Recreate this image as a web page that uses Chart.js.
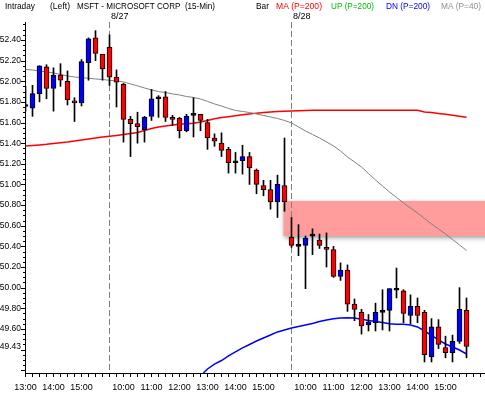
<!DOCTYPE html>
<html>
<head>
<meta charset="utf-8">
<title>MSFT - MICROSOFT CORP (15-Min)</title>
<script src="https://cdn.jsdelivr.net/npm/chart.js@4/dist/chart.umd.min.js"></script>
<style>
	html, body { margin: 0; padding: 0; background: #ffffff; }
	#chart-msft { display: block; }
</style>
</head>
<body>
<canvas id="chart-msft" width="485" height="395"></canvas>
<script>
// 15-min bars: 8/26 afternoon, 8/27 and 8/28 full sessions
var barTimes = [
	"13:00","13:15","13:30","13:45","14:00","14:15","14:30","14:45","15:00","15:15","15:30","15:45",
	"9:30","9:45","10:00","10:15","10:30","10:45","11:00","11:15","11:30","11:45","12:00","12:15","12:30","12:45",
	"13:00","13:15","13:30","13:45","14:00","14:15","14:30","14:45","15:00","15:15","15:30","15:45",
	"9:30","9:45","10:00","10:15","10:30","10:45","11:00","11:15","11:30","11:45","12:00","12:15","12:30","12:45",
	"13:00","13:15","13:30","13:45","14:00","14:15","14:30","14:45","15:00","15:15","15:30","15:45"
];

var opens = [
	51.765, 51.74, 51.88, 52.14, 51.93, 52.06, 52.00, 51.81, 51.79, 52.18, 52.42, 52.26,
	52.33, 52.04, 51.97, 51.63, 51.59, 51.53, 51.66, 51.84, 51.85, 51.65, 51.64, 51.52, 51.675, 51.68,
	51.60, 51.45, 51.40, 51.34, 51.215, 51.23, 51.27, 51.14, 50.99, 50.95, 50.83, 50.99,
	50.49, 50.405, 50.41, 50.505, 50.46, 50.39, 50.37, 50.11, 50.17, 49.84, 49.76, 49.64, 49.66, 49.765,
	49.78, 49.98, 49.97, 49.73, 49.82, 49.76, 49.33, 49.62, 49.42, 49.37, 49.48, 49.78
];
var highs = [
	51.95, 51.96, 52.15, 52.16, 52.13, 52.17, 52.10, 51.84, 52.21, 52.42, 52.49, 52.26,
	52.45, 52.11, 51.98, 51.66, 51.70, 51.66, 51.92, 51.86, 51.90, 51.67, 51.65, 51.68, 51.84, 51.68,
	51.63, 51.49, 51.50, 51.36, 51.31, 51.38, 51.31, 51.15, 51.04, 51.04, 51.09, 51.45,
	50.68, 50.61, 50.50, 50.57, 50.52, 50.53, 50.40, 50.24, 50.22, 49.89, 49.79, 49.74, 49.85, 49.98,
	49.99, 50.19, 49.98, 49.93, 49.90, 49.78, 49.70, 49.69, 49.53, 49.54, 50.00, 49.90
];
var lows = [
	51.71, 51.66, 51.80, 51.83, 51.71, 51.95, 51.77, 51.61, 51.76, 52.01, 52.20, 52.01,
	51.96, 51.75, 51.41, 51.27, 51.40, 51.41, 51.62, 51.65, 51.61, 51.57, 51.45, 51.51, 51.46, 51.52,
	51.34, 51.37, 51.27, 51.11, 51.11, 51.10, 51.00, 50.91, 50.89, 50.76, 50.68, 50.74,
	50.39, 50.31, 49.99, 50.32, 50.38, 50.20, 50.10, 50.07, 49.77, 49.68, 49.55, 49.58, 49.58, 49.59,
	49.58, 49.90, 49.66, 49.65, 49.66, 49.28, 49.28, 49.41, 49.32, 49.28, 49.46, 49.32
];
var closes = [
	51.755, 51.88, 52.15, 51.93, 52.06, 52.01, 51.82, 51.79, 52.19, 52.41, 52.27, 52.12,
	52.04, 51.99, 51.63, 51.59, 51.56, 51.65, 51.83, 51.83, 51.65, 51.63, 51.52, 51.66, 51.67, 51.62,
	51.45, 51.42, 51.33, 51.21, 51.21, 51.27, 51.16, 51.00, 50.95, 50.83, 51.00, 50.83,
	50.41, 50.40, 50.48, 50.50, 50.41, 50.37, 50.11, 50.17, 49.84, 49.79, 49.63, 49.67, 49.76, 49.76,
	49.99, 49.975, 49.75, 49.82, 49.73, 49.35, 49.62, 49.45, 49.37, 49.48, 49.79, 49.43
];

// MA (P=40)
var ma40 = [
	52.114, 52.109, 52.100, 52.090, 52.080, 52.066, 52.051, 52.041, 52.035, 52.029, 52.022, 52.017,
	52.009, 52.003, 51.993, 51.974, 51.955, 51.935, 51.916, 51.900, 51.891, 51.877, 51.867, 51.852, 51.843, 51.828,
	51.804, 51.780, 51.760, 51.736, 51.717, 51.707, 51.697, 51.683, 51.668, 51.654, 51.639, 51.620,
	51.596, 51.557, 51.518, 51.484, 51.450, 51.412, 51.373, 51.324, 51.266, 51.218, 51.169, 51.106, 51.043, 50.985,
	50.927, 50.874, 50.820, 50.772, 50.724, 50.670, 50.617, 50.569, 50.520, 50.467, 50.414, 50.360
];
// MA (P=200)
var ma200 = [
	51.373, 51.378, 51.383, 51.389, 51.397, 51.405, 51.412, 51.421, 51.431, 51.441, 51.450, 51.460,
	51.467, 51.475, 51.484, 51.494, 51.504, 51.523, 51.542, 51.557, 51.567, 51.576, 51.583, 51.589, 51.593, 51.605,
	51.620, 51.636, 51.648, 51.657, 51.666, 51.675, 51.683, 51.691, 51.697, 51.702, 51.706, 51.709,
	51.712, 51.715, 51.717, 51.719, 51.720, 51.720, 51.720, 51.720, 51.720, 51.720, 51.720, 51.720, 51.720, 51.720,
	51.720, 51.720, 51.719, 51.719, 51.718, 51.702, 51.697, 51.688, 51.680, 51.670, 51.661, 51.651
];
// DN (P=200)
var dn200 = [
	null, null, null, null, null, null, null, null, null, null, null, null,
	null, null, null, null, null, null, null, null, null, null, null, null, null, 49.144,
	49.212, 49.260, 49.294, 49.338, 49.377, 49.416, 49.449, 49.483, 49.512, 49.541, 49.571, 49.590,
	49.609, 49.624, 49.638, 49.653, 49.672, 49.687, 49.699, 49.706, 49.709, 49.706, 49.694, 49.682, 49.672, 49.663,
	49.651, 49.645, 49.645, 49.638, 49.619, 49.580, 49.537, 49.493, 49.454, 49.425, 49.396, 49.357
];

var priceLabels = ["52.40","52.20","52.00","51.80","51.60","51.40","51.20","51.00","50.80","50.60","50.40","50.20","50.00","49.80","49.60","49.43"];
var sessionDates = ["8/27", "8/28"];
var sessionStarts = [12, 38];
var zoneRange = [50.50, 50.84];
var zoneStartBar = 37;

var headerItems = [
	{ text: "Intraday", x: 5, w: 30, color: "#000000" },
	{ text: "(Left)", x: 50, w: 20, color: "#000000" },
	{ text: "MSFT - MICROSOFT CORP  (15-Min)", x: 77, w: 138, color: "#000000" },
	{ text: "Bar", x: 256, w: 13, color: "#000000" },
	{ text: "MA (P=200)", x: 276, w: 46, color: "#ff0000" },
	{ text: "UP (P=200)", x: 331, w: 43, color: "#00c000" },
	{ text: "DN (P=200)", x: 386, w: 44, color: "#0000ff" },
	{ text: "MA (P=40)", x: 441, w: 40, color: "#909090" }
];

var fontFamily = "'Liberation Sans', Arial, sans-serif";

function candleColor(i)
{
	var d = closes[i] - opens[i];
	if (Math.abs(d) < 0.015)
	{
		return "#000000";
	}
	return d > 0 ? "#0000ff" : "#ff0000";
}

var msftDecor = {
	id: "msftDecor",
	beforeDatasetsDraw: function(chart)
	{
		var ctx = chart.ctx;
		var area = chart.chartArea;
		var xs = chart.scales.x;
		var ys = chart.scales.y;

		ctx.save();
		ctx.beginPath();
		ctx.rect(area.left, area.top, area.right - area.left, area.bottom - area.top);
		ctx.clip();

		var zx = xs.getPixelForValue(zoneStartBar) - 1;
		var zt = ys.getPixelForValue(zoneRange[1]);
		var zb = ys.getPixelForValue(zoneRange[0]);
		ctx.save();
		ctx.shadowColor = "rgba(70,70,70,0.6)";
		ctx.shadowBlur = 5;
		ctx.shadowOffsetY = 2;
		ctx.fillStyle = "#ff9d9d";
		ctx.fillRect(zx, zt, area.right + 20 - zx, zb - zt);
		ctx.restore();

		ctx.strokeStyle = "#808080";
		ctx.lineWidth = 1;
		ctx.setLineDash([6, 3]);
		for (var k = 0; k < sessionStarts.length; k++)
		{
			var sx = Math.round(xs.getPixelForValue(sessionStarts[k]) - 0.5) + 0.5;
			ctx.beginPath();
			ctx.moveTo(sx, area.top);
			ctx.lineTo(sx, area.bottom);
			ctx.stroke();
		}
		ctx.restore();
	},
	afterDraw: function(chart)
	{
		var ctx = chart.ctx;
		var area = chart.chartArea;
		var xs = chart.scales.x;
		var ys = chart.scales.y;

		ctx.save();
		ctx.strokeStyle = "#000000";
		ctx.lineWidth = 1;
		ctx.beginPath();
		// minor and major price ticks every 0.05
		for (var c = Math.ceil(ys.min * 20); c <= Math.floor(ys.max * 20); c++)
		{
			var py = Math.round(ys.getPixelForValue(c / 20)) + 0.5;
			var len = (c % 4 === 0) ? 4 : 2;
			ctx.moveTo(area.left - len, py);
			ctx.lineTo(area.left, py);
		}
		// one tick per bar
		for (var i = 0; i <= Math.floor(xs.max); i++)
		{
			var px = Math.round(xs.getPixelForValue(i) - 0.5) + 0.5;
			ctx.moveTo(px, area.bottom);
			ctx.lineTo(px, area.bottom + 4);
		}
		ctx.stroke();

		ctx.font = "9px " + fontFamily;
		ctx.textBaseline = "alphabetic";
		ctx.textAlign = "left";
		for (var h = 0; h < headerItems.length; h++)
		{
			ctx.fillStyle = headerItems[h].color;
			ctx.fillText(headerItems[h].text, headerItems[h].x, 9, headerItems[h].w);
		}
		ctx.fillStyle = "#000000";
		for (var k = 0; k < sessionDates.length; k++)
		{
			var lx = xs.getPixelForValue(sessionStarts[k]) + 1.5;
			ctx.fillText(sessionDates[k], lx, 18.5);
		}
		ctx.restore();
	}
};

var xMin = -1 / 14;

new Chart(document.getElementById("chart-msft"), {
	type: "bar",
	data: {
		datasets: [
			{
				type: "line",
				label: "MA (P=40)",
				data: ma40.map(function(v, i) { return { x: i, y: v }; }),
				borderColor: "#808080",
				borderWidth: 1,
				pointRadius: 0,
				fill: false,
				tension: 0,
				order: 5
			},
			{
				type: "line",
				label: "MA (P=200)",
				data: ma200.map(function(v, i) { return { x: i, y: v }; }),
				borderColor: "#ff0000",
				borderWidth: 1.5,
				pointRadius: 0,
				fill: false,
				tension: 0,
				order: 5
			},
			{
				type: "line",
				label: "DN (P=200)",
				data: dn200.map(function(v, i) { return { x: i, y: v }; }),
				borderColor: "#0000ff",
				borderWidth: 1.5,
				pointRadius: 0,
				fill: false,
				tension: 0,
				order: 5
			},
			{
				label: "body",
				data: opens.map(function(o, i) { return { x: i, y: [o, closes[i]] }; }),
				backgroundColor: function(c) { return candleColor(c.dataIndex); },
				borderColor: "#000000",
				borderWidth: 1,
				borderSkipped: false,
				barThickness: 5,
				minBarLength: 2,
				grouped: false,
				order: 3
			},
			{
				label: "wick",
				data: lows.map(function(l, i) { return { x: i, y: [l, highs[i]] }; }),
				backgroundColor: "#000000",
				borderWidth: 0,
				barThickness: 1,
				grouped: false,
				order: 4
			}
		]
	},
	options: {
		responsive: false,
		devicePixelRatio: 1,
		animation: false,
		events: [],
		layout: { padding: { top: 22, left: 0, right: 0, bottom: 0 } },
		plugins: {
			legend: { display: false },
			tooltip: { enabled: false }
		},
		scales: {
			x: {
				type: "linear",
				min: xMin,
				max: xMin + 460 / 7,
				offset: false,
				grid: { display: false, drawTicks: false, tickLength: 0 },
				border: { display: true, color: "#000000", width: 1 },
				afterFit: function(s) { s.height = 22; },
				afterBuildTicks: function(s)
				{
					var t = [];
					for (var i = 0; i < barTimes.length; i++)
					{
						if (/:00$/.test(barTimes[i]))
						{
							t.push({ value: i });
						}
					}
					s.ticks = t;
				},
				ticks: {
					autoSkip: false,
					maxRotation: 0,
					padding: 9,
					color: "#000000",
					font: { family: fontFamily, size: 9 },
					callback: function(v) { return barTimes[v]; }
				}
			},
			y: {
				type: "linear",
				min: 49.173,
				max: 52.574,
				grid: { display: false, drawTicks: false, tickLength: 0 },
				border: { display: true, color: "#000000", width: 1 },
				afterFit: function(s) { s.width = 25; },
				afterBuildTicks: function(s)
				{
					s.ticks = priceLabels.map(function(p) { return { value: parseFloat(p) }; });
				},
				ticks: {
					autoSkip: false,
					padding: 4,
					color: "#000000",
					font: { family: fontFamily, size: 8.5 },
					callback: function(v, i) { return priceLabels[i]; }
				}
			}
		}
	},
	plugins: [msftDecor]
});
</script>
</body>
</html>
